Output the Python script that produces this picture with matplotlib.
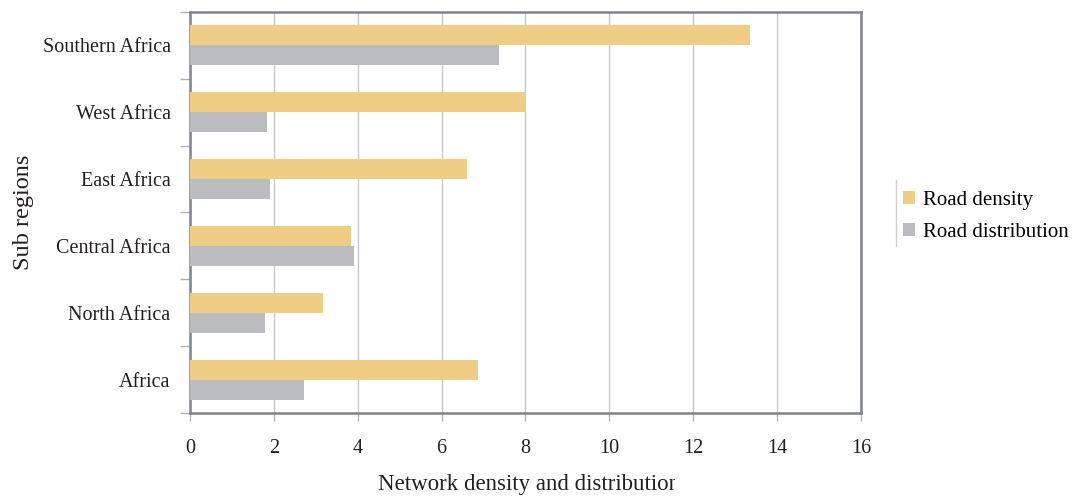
import numpy as np
import matplotlib
matplotlib.use("Agg")
import matplotlib.pyplot as plt
from matplotlib.patches import Patch, Rectangle
from matplotlib.lines import Line2D

plt.rcParams['font.family'] = ['Liberation Serif', 'DejaVu Serif']

regions = ['Africa', 'North Africa', 'Central Africa', 'East Africa', 'West Africa', 'Southern Africa']
road_density = [6.86, 3.17, 3.84, 6.6, 8.01, 13.35]
road_distribution = [2.72, 1.79, 3.9, 1.92, 1.84, 7.38]

c_density = '#f0cd84'
c_dist = '#bbbcc0'
spine_col = '#7d848a'
txt_col = '#231f20'

fig = plt.figure(figsize=(10.72, 4.97), dpi=100)
ax = fig.add_axes([0.1772, 0.169, 0.6260, 0.8069])

y = np.arange(len(regions))
h = 0.3
ax.barh(y + h / 2, road_density, height=h, color=c_density, zorder=3)
ax.barh(y - h / 2, road_distribution, height=h, color=c_dist, zorder=3)

ax.set_xlim(0, 16)
ax.set_ylim(-0.5, len(regions) - 0.5)
ax.set_xticks(np.arange(0, 17, 2))
ax.set_yticks(y)
ax.set_yticklabels(regions)
ax.tick_params(axis='y', length=0, pad=14, labelsize=14.5, labelcolor=txt_col)
ax.tick_params(axis='x', length=6, width=1, color='#b0b0b0', pad=13,
               labelsize=14.5, labelcolor=txt_col)

# small outward ticks between the categories
ax.set_yticks(np.arange(-0.5, len(regions)), minor=True)
ax.tick_params(axis='y', which='minor', length=7, width=1, color='#b0b0b0')

ax.grid(axis='x', color='#c8c8c8', linewidth=1, zorder=0)
for s in ax.spines.values():
    s.set_color(spine_col)
    s.set_linewidth(1.8)

ax.set_ylabel('Sub regions', fontsize=17.5, color=txt_col, labelpad=6)

# x label is cut off at the right end
xl = fig.text(0.3526, 0.004, 'Network density and distribution', fontsize=16.5,
              color=txt_col, ha='left', va='bottom')
xl.set_clip_path(Rectangle((0, 0), 675 / 1072, 1, transform=fig.transFigure))

handles = [Patch(facecolor=c_density, edgecolor='none'),
           Patch(facecolor=c_dist, edgecolor='none')]
leg = fig.legend(handles, ['Road density', 'Road distribution'],
                 loc='center left', bbox_to_anchor=(0.8423, 0.565),
                 frameon=False, fontsize=15, handlelength=0.58, handleheight=0.58,
                 handletextpad=0.4, labelspacing=0.62, borderaxespad=0,
                 borderpad=0)
fig.add_artist(Line2D([0.8358, 0.8358], [0.505, 0.638], color='#d0d0d0', lw=1))

fig.savefig('out.png', dpi=100)
